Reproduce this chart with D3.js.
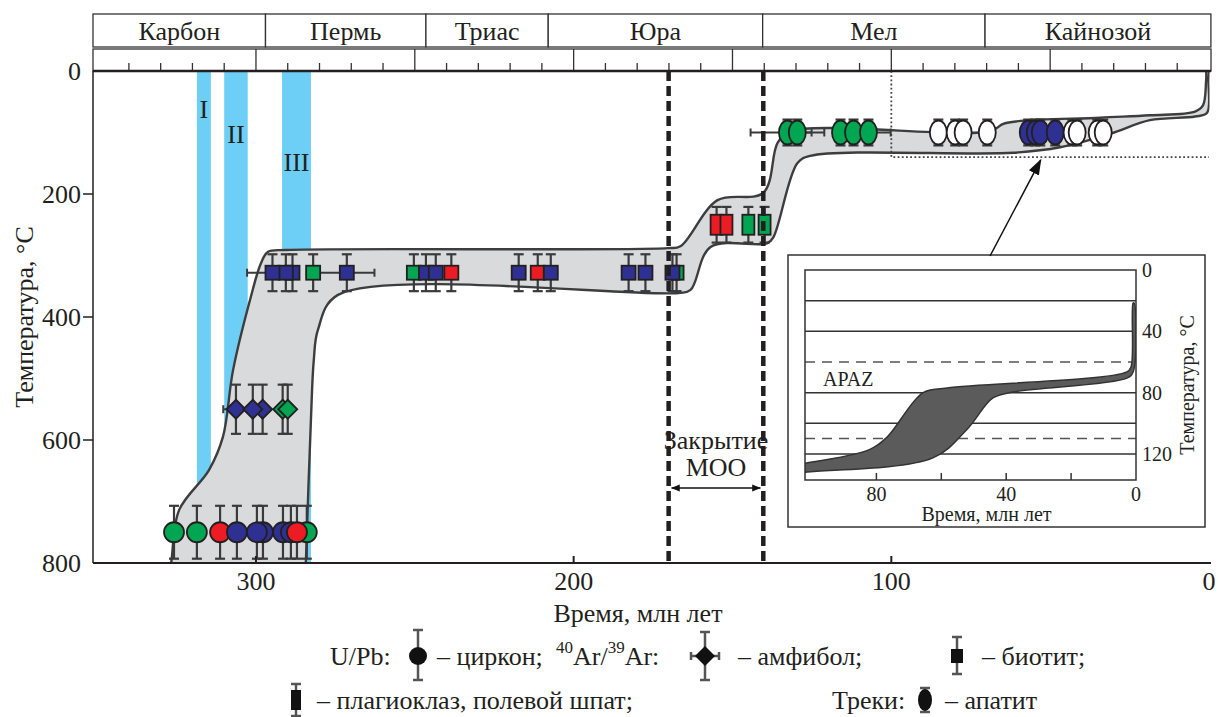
<!DOCTYPE html>
<html><head><meta charset="utf-8">
<script src="https://cdn.jsdelivr.net/npm/d3@7"></script>
<style>
body{margin:0;background:#fff}
svg text{font-family:"Liberation Serif","DejaVu Serif","Times New Roman",serif;fill:#231f20}
</style>
</head><body>
<svg id="c" width="1218" height="717" font-family="Liberation Serif, DejaVu Serif, serif"></svg>
<script>
// ---------- DATA ----------
const periods = ["Карбон","Пермь","Триас","Юра","Мел","Кайнозой"];
const periodBounds = [351.3, 297, 246.5, 208, 140.5, 70.5, -0.6];
const xTicks = [300, 200, 100, 0];
const yTicks = [0, 200, 400, 600, 800];

const bandStart = [318.6, 310.0, 291.8];
const bandEnd   = [314.2, 302.6, 282.7];
const bandLabels = ["I", "II", "III"];
const bandLabelT = [63, 104, 148];

// U/Pb zircon, 750 °C
const zirconAge   = [325.8, 318.6, 311.3, 306.0, 297.8, 299.7, 284.0, 291.5, 289.0, 287.1];
const zirconColor = ["g","g","r","b","b","b","g","b","b","r"];
const zirconT = 750, zirconErr = 43;

// Ar/Ar amphibole, 550 °C
const amphAge   = [306.3, 297.9, 301.0, 291.6, 290.0];
const amphColor = ["b","b","b","g","g"];
const amphXErr  = [4, 0, 0, 0, 0];
const amphT = 550, amphErr = 40;

// Ar/Ar biotite, 328 °C
const bioAge   = [288.5, 290.6, 294.8, 282.0, 271.4, 250.3, 246.5, 243.4, 238.5, 217.3, 211.3, 207.2, 182.7, 177.4, 167.6, 168.9];
const bioColor = ["b","b","b","g","b","g","b","b","r","b","r","b","b","b","g","b"];
const bioXErr  = [2, 2, 8, 2, 8.7, 2, 2, 2, 2, 2, 2, 2, 2, 2, 2, 2];
const bioT = 328, bioErr = 30;

// Ar/Ar plagioclase / feldspar, 250 °C
const plagAge   = [155.0, 151.9, 145.0, 139.9];
const plagColor = ["r","r","g","g"];
const plagT = 250, plagErr = 29;

// Apatite fission tracks, 100 °C
const apatiteAge   = [132.7, 129.6, 116.0, 111.9, 107.2, 85.2, 79.9, 77.4, 69.8, 56.9, 54.7, 53.1, 48.4, 43.1, 41.5, 35.2, 33.3];
const apatiteColor = ["g","g","g","g","g","w","w","w","w","b","b","b","b","w","w","w","w"];
const apatiteXErr  = [11.6, 4.5, 0, 0, 7, 0, 0, 0, 0, 0, 0, 0, 0, 0, 0, 0, 0];
const apatiteT = 100, apatiteErr = 21;

// thermal-history envelope (age, temperature), closed outline
const envAge  = [328.3, 326.7, 324.2, 314.8, 310.4, 307.2, 301.6, 298.4, 296.2, 290.6, 170.4, 166.4, 154.7, 140.3, 135.8, 131.8, 68.9, 64.2, 34.3, 18.6, 4.4, 1.9, 0.9, 0.6,
                 0.0, 0.15, 0.6, 4.4, 18.6, 31.1, 46.9, 61.6, 125.5, 129.6, 137.1, 139.0, 156.9, 163.2, 167.0, 274.2, 280.5, 281.8, 282.7, 284.3, 284.6];
const envTemp = [850, 800, 714, 649, 595, 486, 367, 312, 294, 291, 288, 285, 210, 198, 117, 98, 98, 85, 76, 72, 66, 56, 15, -18,
                 -18, 15, 68, 74, 80, 102, 124, 133, 138, 150, 270, 280, 286, 356, 361, 364, 421, 470, 567, 800, 850];

const closureAges = [170.1, 140.3];
const insetWindow = [100, 140];   // age, temperature of dotted window

// inset (apatite model)
const insetXTicks = [80, 60, 40, 20];
const insetXLabels = [80, 40, 0];
const insetYLabels = [0, 40, 80, 120];
const insetSolid = [20, 40, 80, 100, 120];
const insetDashed = [60, 110];
const insetAge  = [106, 101.8, 82, 76.7, 65.6, 58.2, 2.8, 1.5, 0.9, 0.6, 0.9, 2.8, 37.9, 44.1, 52.1, 62.6, 101.4, 106];
const insetTemp = [127, 126, 117, 109, 80, 77, 66.5, 63, 21.5, 21.5, 66.5, 70.5, 79.6, 83.5, 104, 122.6, 131.8, 133];

const colors = {b:"#2e3192", g:"#00a651", r:"#ed1c24", w:"#ffffff"};

// ---------- DRAW ----------
const svg = d3.select("#c");
const FONT = "Liberation Serif, DejaVu Serif, serif";
const FS = 26;
const x = d3.scaleLinear().domain([351.3, 0]).range([93, 1209]);
const y = d3.scaleLinear().domain([0, 800]).range([71, 563]);
const X0 = x.range()[0], X1 = 1211, Y0 = y.range()[0], Y1 = y.range()[1];

function T(sel, tx, ty, str, size, anchor){
  return sel.append("text").attr("x",tx).attr("y",ty).attr("font-family",FONT)
    .attr("font-size",size).attr("text-anchor",anchor||"middle")
    .attr("dominant-baseline","central").attr("fill","#231f20").text(str);
}

const defs = svg.append("defs");
defs.append("clipPath").attr("id","plotclip").append("rect")
  .attr("x",X0).attr("y",Y0).attr("width",x(0)-X0+0.5).attr("height",Y1-Y0);
const mk = defs.append("marker").attr("id","ah").attr("viewBox","0 0 10 10")
  .attr("refX",9).attr("refY",5).attr("markerWidth",9).attr("markerHeight",9)
  .attr("orient","auto-start-reverse").attr("markerUnits","userSpaceOnUse");
mk.append("path").attr("d","M0,1 L10,5 L0,9 Z").attr("fill","#111");
const mk2 = defs.append("marker").attr("id","ah2").attr("viewBox","0 0 10 10")
  .attr("refX",9).attr("refY",5).attr("markerWidth",16).attr("markerHeight",16)
  .attr("orient","auto").attr("markerUnits","userSpaceOnUse");
mk2.append("path").attr("d","M0,1.5 L10,5 L0,8.5 Z").attr("fill","#111");

// period bar
const pb = svg.append("g");
periods.forEach((p,i)=>{
  const a = x(periodBounds[i]), b = x(periodBounds[i+1]);
  pb.append("rect").attr("x",a).attr("y",14).attr("width",b-a).attr("height",33)
    .attr("fill","#fff").attr("stroke","#333").attr("stroke-width",1.3);
  T(pb, (a+b)/2, 31, p, FS);
});
pb.append("rect").attr("x",X0).attr("y",49).attr("width",X1-X0).attr("height",Y0-49)
  .attr("fill","#fff").attr("stroke","#333").attr("stroke-width",1.3);
d3.range(340, 0, -10).forEach(t=>{
  const major = t % 50 === 0;
  pb.append("line").attr("x1",x(t)).attr("x2",x(t))
    .attr("y1", major ? 49 : Y0-8).attr("y2",Y0)
    .attr("stroke","#333").attr("stroke-width",1.3);
});

// blue bands
const plot = svg.append("g").attr("clip-path","url(#plotclip)");
bandStart.forEach((s,i)=>{
  plot.append("rect").attr("x",x(s)).attr("y",Y0).attr("width",x(bandEnd[i])-x(s))
    .attr("height",Y1-Y0).attr("fill","#6dcff6");
});

// envelope
const envPts = envAge.map((a,i)=>[x(a), y(envTemp[i])]);
plot.append("path").attr("d", d3.line().curve(d3.curveCatmullRomClosed.alpha(0.5))(envPts))
  .attr("fill","#d9dadb").attr("stroke","#3d3d3d").attr("stroke-width",2.4).attr("stroke-linejoin","round");

// band labels
bandLabels.forEach((l,i)=>T(svg, (x(bandStart[i])+x(bandEnd[i]))/2, y(bandLabelT[i]), l, FS));

// dotted window
svg.append("path")
  .attr("d",`M${x(insetWindow[0])},${Y0}V${y(insetWindow[1])}H${x(0)}`)
  .attr("fill","none").attr("stroke","#444").attr("stroke-width",1.8).attr("stroke-dasharray","1.8,2.4");

// markers
const mg = svg.append("g");
const EB = "#3a3a3a";
function vbar(cx, t, err){
  if(!err) return;
  const a = y(t-err), b = y(t+err);
  mg.append("line").attr("x1",cx).attr("x2",cx).attr("y1",a).attr("y2",b).attr("stroke",EB).attr("stroke-width",2.2);
  [a,b].forEach(v=>mg.append("line").attr("x1",cx-5).attr("x2",cx+5).attr("y1",v).attr("y2",v).attr("stroke",EB).attr("stroke-width",2.2));
}
function hbar(age, cy, err){
  if(!err) return;
  const a = x(age+err), b = x(age-err);
  mg.append("line").attr("x1",a).attr("x2",b).attr("y1",cy).attr("y2",cy).attr("stroke",EB).attr("stroke-width",2);
  [a,b].forEach(v=>mg.append("line").attr("x1",v).attr("x2",v).attr("y1",cy-4).attr("y2",cy+4).attr("stroke",EB).attr("stroke-width",2));
}
function shape(sel, kind, cx, cy, fill){
  let s;
  if(kind==="circle") s = sel.append("circle").attr("cx",cx).attr("cy",cy).attr("r",10);
  else if(kind==="diamond") s = sel.append("path").attr("d",`M${cx},${cy-9.5}L${cx+9.5},${cy}L${cx},${cy+9.5}L${cx-9.5},${cy}Z`);
  else if(kind==="square") s = sel.append("rect").attr("x",cx-7).attr("y",cy-7).attr("width",14).attr("height",14);
  else if(kind==="plag") s = sel.append("rect").attr("x",cx-6).attr("y",cy-10).attr("width",12).attr("height",20);
  else s = sel.append("ellipse").attr("cx",cx).attr("cy",cy).attr("rx",8.5).attr("ry",12);
  return s.attr("fill",fill);
}
function series(ages, cols, t, err, xerr, kind){
  const cy = y(t);
  ages.forEach((a,i)=>{ vbar(x(a), t, err); hbar(a, cy, xerr ? xerr[i] : 0); });
  ages.forEach((a,i)=>{
    shape(mg, kind, x(a), cy, colors[cols[i]]).attr("stroke","#231f20").attr("stroke-width",1.8);
  });
}
series(zirconAge, zirconColor, zirconT, zirconErr, null, "circle");
series(amphAge, amphColor, amphT, amphErr, amphXErr, "diamond");
series(bioAge, bioColor, bioT, bioErr, bioXErr, "square");
series(plagAge, plagColor, plagT, plagErr, null, "plag");
series(apatiteAge, apatiteColor, apatiteT, apatiteErr, apatiteXErr, "ellipse");

// closure dashed lines
closureAges.forEach(a=>{
  svg.append("line").attr("x1",x(a)).attr("x2",x(a)).attr("y1",Y0).attr("y2",Y1)
    .attr("stroke","#231f20").attr("stroke-width",4.5).attr("stroke-dasharray","10,5");
});
const cx0 = x(closureAges[0]), cx1 = x(closureAges[1]), cmid = (cx0+cx1)/2;
svg.append("line").attr("x1",cx0+3).attr("x2",cx1-3).attr("y1",488).attr("y2",488)
  .attr("stroke","#111").attr("stroke-width",1.5)
  .attr("marker-start","url(#ah)").attr("marker-end","url(#ah)");
T(svg, cmid, 440, "Закрытие", FS);
T(svg, cmid, 467, "МОО", FS);

// axes
const ax = svg.append("g").attr("stroke","#231f20");
ax.append("line").attr("x1",X0).attr("x2",X1).attr("y1",Y0).attr("y2",Y0).attr("stroke-width",2.5);
ax.append("line").attr("x1",X0).attr("x2",X1).attr("y1",Y1).attr("y2",Y1).attr("stroke-width",2);
ax.append("line").attr("x1",X0).attr("x2",X0).attr("y1",Y0).attr("y2",Y1).attr("stroke-width",1.5);
yTicks.forEach(t=>{
  if(t>0 && t<800) ax.append("line").attr("x1",X0-10).attr("x2",X0).attr("y1",y(t)).attr("y2",y(t)).attr("stroke-width",1.5);
  T(svg, X0-12, y(t), t, FS, "end");
});
xTicks.forEach(t=>{
  if(t>0) ax.append("line").attr("x1",x(t)).attr("x2",x(t)).attr("y1",Y1-7).attr("y2",Y1).attr("stroke-width",2);
  T(svg, x(t), Y1+18, t, FS);
});
T(svg, (X0+X1)/2-14, 613, "Время, млн лет", FS);
T(svg, 0, 0, "Температура, °C", FS).attr("transform",`translate(24,${(Y0+Y1)/2}) rotate(-90)`);

// inset
const IL = 805, IR = 1136, IT = 270, IB = 480;
const xi = d3.scaleLinear().domain([102, 0]).range([IL, IR]);
const yi = d3.scaleLinear().domain([0, 137]).range([IT, IB]);
const ig = svg.append("g");
ig.append("rect").attr("x",788).attr("y",255).attr("width",417).attr("height",272)
  .attr("fill","#fff").attr("stroke","#333").attr("stroke-width",1.5);
defs.append("clipPath").attr("id","iclip").append("rect").attr("x",IL).attr("y",IT).attr("width",IR-IL).attr("height",IB-IT);
insetSolid.forEach(t=>ig.append("line").attr("x1",IL).attr("x2",IR).attr("y1",yi(t)).attr("y2",yi(t))
  .attr("stroke","#333").attr("stroke-width",1.5));
insetDashed.forEach(t=>ig.append("line").attr("x1",IL).attr("x2",IR).attr("y1",yi(t)).attr("y2",yi(t))
  .attr("stroke","#555").attr("stroke-width",1.5).attr("stroke-dasharray","10,7"));
ig.append("g").attr("clip-path","url(#iclip)").append("path")
  .attr("d", d3.line().curve(d3.curveCatmullRomClosed.alpha(0.5))(insetAge.map((a,i)=>[xi(a), yi(insetTemp[i])])))
  .attr("fill","#5b5b5b").attr("stroke","#333").attr("stroke-width",1.5);
ig.append("rect").attr("x",IL).attr("y",IT).attr("width",IR-IL).attr("height",IB-IT)
  .attr("fill","none").attr("stroke","#333").attr("stroke-width",1.5);
insetXTicks.forEach(t=>ig.append("line").attr("x1",xi(t)).attr("x2",xi(t)).attr("y1",IB-7).attr("y2",IB)
  .attr("stroke","#333").attr("stroke-width",1.5));
insetXLabels.forEach(t=>T(ig, xi(t), IB+14, t, 20));
insetYLabels.forEach(t=>T(ig, IR+6, yi(t), t, 20, "start"));
T(ig, (IL+IR)/2+16, 514, "Время, млн лет", 20);
T(ig, 0, 0, "Температура, °C", 20).attr("transform",`translate(1187,${(IT+IB)/2+10}) rotate(-90)`);
T(ig, 823, 379, "APAZ", 20, "start");

// arrow from inset to window
svg.append("line").attr("x1",990).attr("y1",256).attr("x2",x(53)).attr("y2",y(145))
  .attr("stroke","#111").attr("stroke-width",1.5).attr("marker-end","url(#ah2)");

// legend
const lg = svg.append("g");
function lmark(kind, cx, cy, top, bot, hw){
  lg.append("line").attr("x1",cx).attr("x2",cx).attr("y1",top).attr("y2",bot).attr("stroke","#555").attr("stroke-width",2.5);
  [top,bot].forEach(v=>lg.append("line").attr("x1",cx-5).attr("x2",cx+5).attr("y1",v).attr("y2",v).attr("stroke","#555").attr("stroke-width",2.5));
  if(hw){
    lg.append("line").attr("x1",cx-hw).attr("x2",cx+hw).attr("y1",cy).attr("y2",cy).attr("stroke","#555").attr("stroke-width",2.5);
    [cx-hw,cx+hw].forEach(v=>lg.append("line").attr("x1",v).attr("x2",v).attr("y1",cy-4).attr("y2",cy+4).attr("stroke","#555").attr("stroke-width",2.5));
  }
  let s;
  if(kind==="circle") s = lg.append("circle").attr("cx",cx).attr("cy",cy).attr("r",9);
  else if(kind==="diamond") s = lg.append("path").attr("d",`M${cx},${cy-10}L${cx+10},${cy}L${cx},${cy+10}L${cx-10},${cy}Z`);
  else if(kind==="square") s = lg.append("rect").attr("x",cx-6).attr("y",cy-7).attr("width",12).attr("height",14);
  else if(kind==="plag") s = lg.append("rect").attr("x",cx-5).attr("y",cy-10).attr("width",10).attr("height",20);
  else s = lg.append("ellipse").attr("cx",cx).attr("cy",cy).attr("rx",7).attr("ry",11);
  s.attr("fill","#111");
}
const r1 = 656, r2 = 700;
T(lg, 330, r1, "U/Pb:", FS, "start");
lmark("circle", 418, r1, 630, 680, 0);
T(lg, 437, r1, "– циркон;", FS, "start");
const ar = T(lg, 556, r1, "", FS, "start");
ar.append("tspan").attr("font-size",17).attr("dy",-9).text("40");
ar.append("tspan").attr("dy",9).text("Ar/");
ar.append("tspan").attr("font-size",17).attr("dy",-9).text("39");
ar.append("tspan").attr("dy",9).text("Ar:");
lmark("diamond", 705, r1, 632, 680, 14);
T(lg, 738, r1, "– амфибол;", FS, "start");
lmark("square", 957, r1, 637, 674, 0);
T(lg, 982, r1, "– биотит;", FS, "start");
lmark("plag", 296, r2, 684, 716, 0);
T(lg, 317, r2, "– плагиоклаз, полевой шпат;", FS, "start");
T(lg, 832, r2, "Треки:", FS, "start");
lmark("ellipse", 925, r2, 688, 712, 0);
T(lg, 945, r2, "– апатит", FS, "start");
</script>
</body></html>
